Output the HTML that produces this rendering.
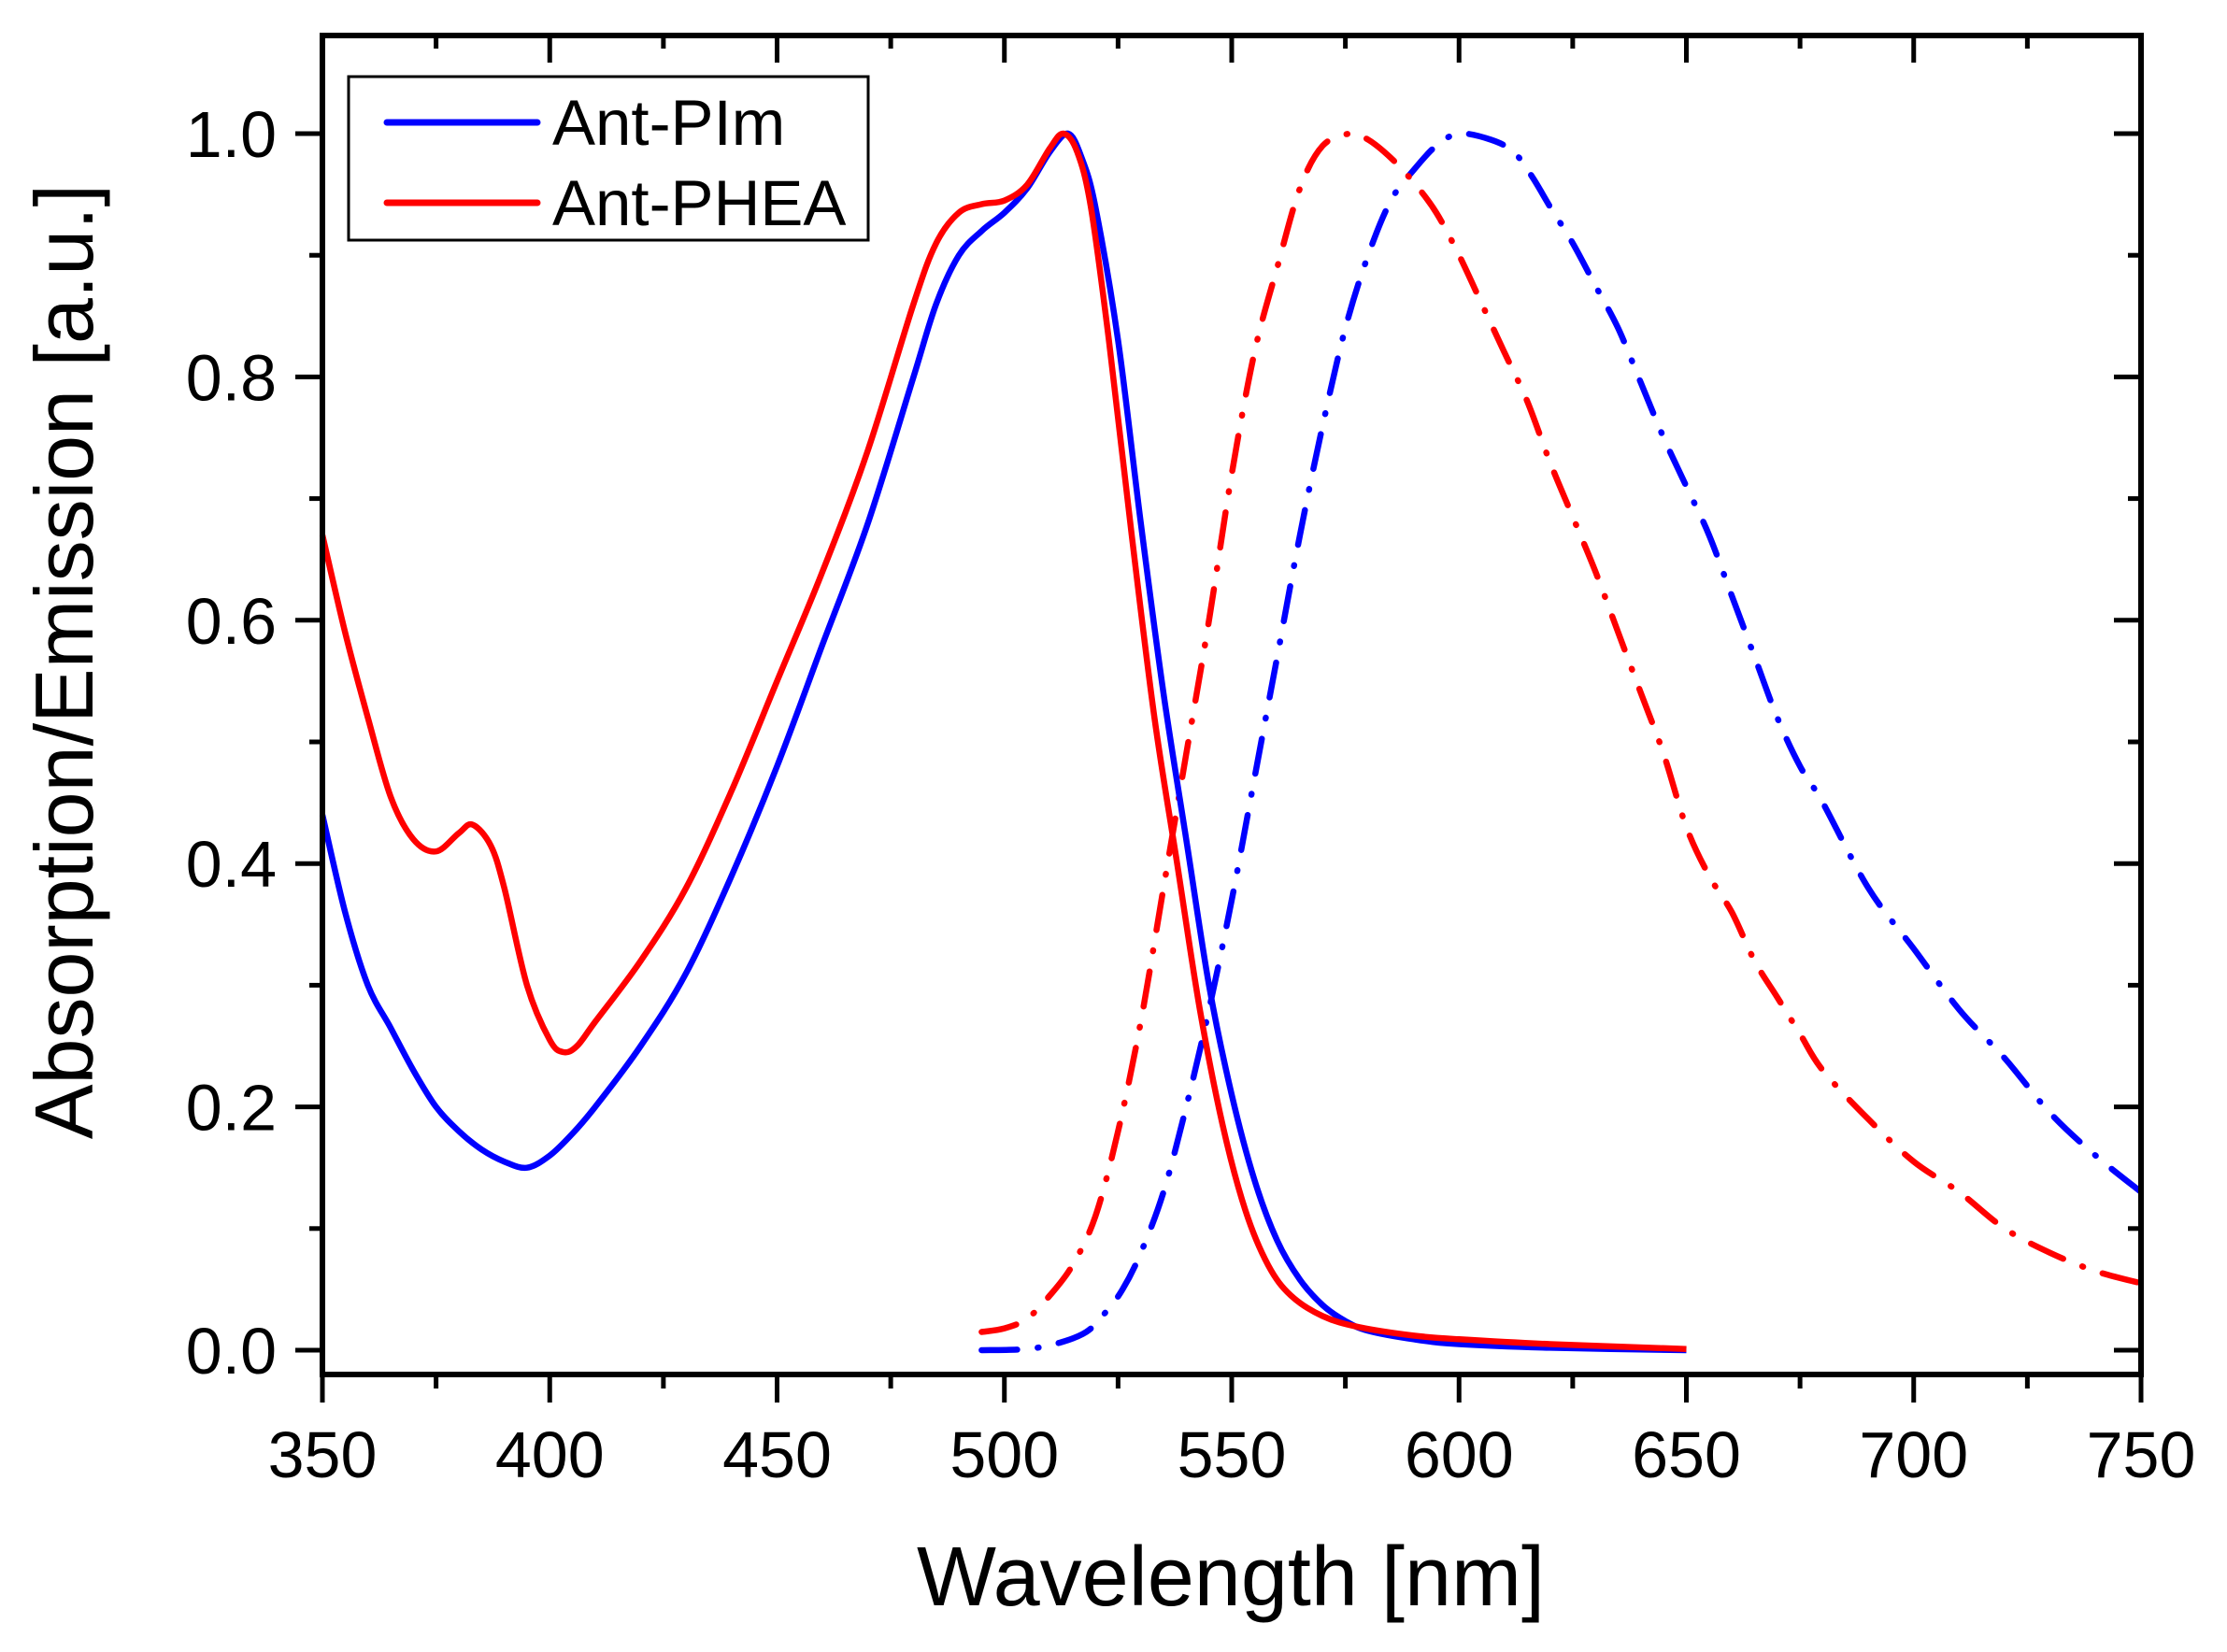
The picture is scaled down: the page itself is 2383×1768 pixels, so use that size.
<!DOCTYPE html>
<html><head><meta charset="utf-8">
<style>
html,body{margin:0;padding:0;background:#fff;}
svg{display:block;}
text{font-family:"Liberation Sans",Arial,sans-serif;fill:#000;}
</style></head>
<body>
<svg id="s" width="2383" height="1768" viewBox="0 0 2383 1768" xmlns="http://www.w3.org/2000/svg">
<rect width="2383" height="1768" fill="#fff"/>
<g id="curves" fill="none" stroke-linejoin="round"></g>
<g id="axes" stroke="#000" stroke-width="5" fill="none"></g>
<rect x="345" y="38" width="1946" height="1433" fill="none" stroke="#000" stroke-width="6"/>
<g id="labels" font-size="70"></g>
<rect x="373" y="82" width="556" height="175" fill="#fff" stroke="#000" stroke-width="3"/>
<line x1="414" y1="131" x2="575" y2="131" stroke="#0000ff" stroke-width="7" stroke-linecap="round"/>
<line x1="414" y1="217" x2="575" y2="217" stroke="#ff0000" stroke-width="7" stroke-linecap="round"/>
<text x="591" y="155" font-size="69">Ant-PIm</text>
<text x="591" y="241" font-size="69">Ant-PHEA</text>
<text x="1317" y="1718" font-size="90" text-anchor="middle">Wavelength [nm]</text>
<text transform="translate(99,708) rotate(-90)" font-size="88" text-anchor="middle">Absorption/Emission [a.u.]</text>
</svg>
<script>
var NS="http://www.w3.org/2000/svg";
function X(n){return 345+(n-350)*4.865;}
function Y(v){return 1445-v*1302;}
function path(d){
 var p=d.map(function(a){return [X(a[0]),Y(a[1])];});
 var s="M"+p[0][0].toFixed(1)+","+p[0][1].toFixed(1);
 for(var i=0;i<p.length-1;i++){
  var p0=p[i-1]||p[i],p1=p[i],p2=p[i+1],p3=p[i+2]||p2;
  var c1=[p1[0]+(p2[0]-p0[0])/6,p1[1]+(p2[1]-p0[1])/6];
  var c2=[p2[0]-(p3[0]-p1[0])/6,p2[1]-(p3[1]-p1[1])/6];
  s+="C"+c1[0].toFixed(1)+","+c1[1].toFixed(1)+" "+c2[0].toFixed(1)+","+c2[1].toFixed(1)+" "+p2[0].toFixed(1)+","+p2[1].toFixed(1);
 }
 return s;
}
function add(d,color,dash){
 var e=document.createElementNS(NS,"path");
 e.setAttribute("d",path(d));e.setAttribute("stroke",color);e.setAttribute("stroke-width","6.5");
 if(dash){e.setAttribute("stroke-dasharray","38 22 1 22");e.setAttribute("stroke-linecap","round");}
 document.getElementById("curves").appendChild(e);
}
var blueAbs=[[350,0.44],[355,0.36],[360,0.30],[365,0.265],[370,0.23],[375,0.2],[380,0.18],[385,0.165],[390,0.155],[395,0.15],[400,0.16],[405,0.178],[410,0.2],[420,0.25],[430,0.31],[440,0.39],[450,0.48],[460,0.58],[470,0.68],[480,0.80],[485,0.86],[490,0.90],[495,0.92],[500,0.935],[505,0.955],[510,0.985],[514,1.0],[517,0.98],[520,0.94],[525,0.83],[530,0.68],[535,0.54],[540,0.42],[545,0.30],[550,0.21],[555,0.14],[560,0.09],[565,0.058],[570,0.037],[575,0.024],[580,0.016],[590,0.009],[600,0.005],[620,0.002],[650,0.0]];
var redAbs=[[350,0.67],[355,0.59],[360,0.52],[365,0.455],[370,0.42],[375,0.41],[380,0.425],[383,0.432],[387,0.415],[390,0.38],[395,0.30],[400,0.255],[403,0.245],[406,0.25],[410,0.27],[420,0.32],[430,0.38],[440,0.46],[450,0.55],[460,0.64],[470,0.74],[480,0.86],[485,0.91],[490,0.935],[495,0.942],[500,0.945],[505,0.958],[510,0.988],[513,1.0],[516,0.985],[519,0.94],[523,0.83],[528,0.67],[533,0.52],[538,0.40],[543,0.28],[548,0.185],[553,0.115],[558,0.07],[563,0.045],[570,0.028],[578,0.019],[590,0.012],[600,0.009],[620,0.005],[650,0.001]];
var redEm=[[495,0.015],[500,0.018],[505,0.026],[510,0.045],[515,0.07],[520,0.11],[525,0.18],[530,0.27],[535,0.38],[540,0.49],[545,0.6],[550,0.72],[555,0.82],[560,0.89],[565,0.955],[570,0.99],[576,1.0],[580,0.995],[585,0.98],[590,0.96],[595,0.935],[600,0.9],[605,0.86],[610,0.82],[615,0.78],[620,0.73],[625,0.685],[630,0.64],[635,0.59],[640,0.54],[645,0.49],[650,0.43],[655,0.39],[660,0.36],[665,0.32],[670,0.29],[675,0.26],[680,0.23],[690,0.19],[700,0.155],[710,0.13],[720,0.1],[730,0.08],[740,0.065],[750,0.055]];
var blueEm=[[495,0.0],[505,0.001],[512,0.006],[518,0.015],[522,0.03],[526,0.05],[530,0.08],[535,0.13],[540,0.2],[545,0.28],[550,0.37],[555,0.47],[560,0.57],[565,0.67],[570,0.76],[575,0.84],[580,0.9],[585,0.945],[590,0.97],[595,0.99],[600,1.0],[607,0.995],[612,0.985],[616,0.965],[620,0.94],[625,0.91],[630,0.875],[635,0.84],[640,0.795],[645,0.75],[650,0.71],[655,0.67],[660,0.62],[665,0.57],[670,0.52],[675,0.48],[680,0.45],[690,0.38],[700,0.33],[710,0.28],[720,0.24],[730,0.195],[740,0.16],[750,0.13]];
add(blueEm,"#0000ff",true);add(redEm,"#ff0000",true);
add(blueAbs,"#0000ff",false);add(redAbs,"#ff0000",false);
var ax=document.getElementById("axes"),lb=document.getElementById("labels");
function ln(x1,y1,x2,y2){var l=document.createElementNS(NS,"line");l.setAttribute("x1",x1);l.setAttribute("y1",y1);l.setAttribute("x2",x2);l.setAttribute("y2",y2);ax.appendChild(l);}
function tx(x,y,t,a){var e=document.createElementNS(NS,"text");e.setAttribute("x",x);e.setAttribute("y",y);e.setAttribute("text-anchor",a);e.textContent=t;lb.appendChild(e);}
for(var n=350;n<=750;n+=25){var x=X(n),maj=(n%50==0);
 ln(x,1471,x,1471+(maj?30:15));ln(x,38,x,38+(maj?29:14));
 if(maj)tx(x,1581,String(n),"middle");}
for(var v=0;v<=10;v++){var val=v*0.1,y=Y(val),maj=(v%2==0);
 ln(345,y,345-(maj?29:14),y);ln(2291,y,2291-(maj?29:14),y);
 if(maj)tx(296,y+25,val.toFixed(1),"end");}
</script>
</body></html>
